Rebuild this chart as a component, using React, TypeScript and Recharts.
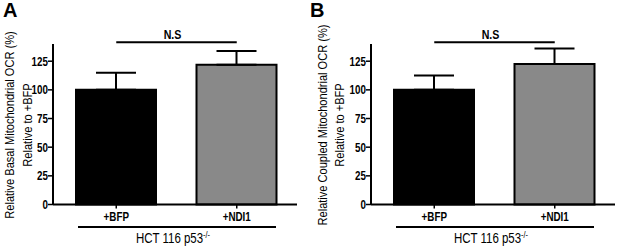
import React from 'react';
import { BarChart, Bar, XAxis, YAxis, Cell, ErrorBar, ReferenceLine } from 'recharts';

const categories = ['+BFP', '+NDI1'];
const basalMeans = [100, 122];
const basalErrors = [15, 12];
const coupledMeans = [100, 122.5];
const coupledErrors = [12.5, 13.5];
const yTicks = [0, 25, 50, 75, 100, 125];
const yDomainMax = 140;
const bracketLevel = 141.5;
const groupLabel = 'HCT 116 p53';
const groupSup = '-/-';
const sigLabel = 'N.S';

const FONT = '"Liberation Sans", Arial, Helvetica, sans-serif';
const SQ = 0.82; // horizontal condensing factor for the narrow typeface look
const barColors = ['#000000', '#898989'];

type PanelProps = {
  letter: string;
  means: number[];
  errors: number[];
  line1: string;
  line2: string;
  left: number;
  marginLeft: number;
  marginRight: number;
  l1Off: number;
  l2Off: number;
};

const YTick = (props: any) => {
  const { x, y, payload } = props;
  return (
    <text transform={`translate(${x} ${y}) scale(${SQ} 1)`} textAnchor="end" dy="0.36em"
      fontFamily={FONT} fontSize={12} fontWeight={700} fill="#000">{payload.value}</text>
  );
};

const XTick = (props: any) => {
  const { x, y, payload } = props;
  return (
    <text transform={`translate(${x} ${y}) scale(${SQ} 1)`} textAnchor="middle" dy="0.72em"
      fontFamily={FONT} fontSize={12} fontWeight={700} fill="#000">{payload.value}</text>
  );
};

const YLabel = (props: any) => {
  const vb = props.viewBox || {};
  const axisX = vb.x + vb.width;
  const cy = 125;
  const x1 = axisX - props.l1Off;
  const x2 = axisX - props.l2Off;
  return (
    <g>
      <text transform={`translate(${x1} ${cy}) rotate(-90) scale(${SQ} 1)`} textAnchor="middle" dy="0.36em"
        fontFamily={FONT} fontSize={13.5} fill="#000">{props.line1}</text>
      <text transform={`translate(${x2} ${cy}) rotate(-90) scale(${SQ} 1)`} textAnchor="middle" dy="0.36em"
        fontFamily={FONT} fontSize={13.5} fill="#000">{props.line2}</text>
    </g>
  );
};

const XGroup = (props: any) => {
  const vb = props.viewBox || {};
  const xa = vb.x + 25;
  const xb = vb.x + vb.width - 21;
  const ly = vb.y + 22.5;
  const cx = (xa + xb) / 2 - 4;
  return (
    <g>
      <line x1={xa} x2={xb} y1={ly} y2={ly} stroke="#000" strokeWidth={2} />
      <text transform={`translate(${cx} ${ly + 16}) scale(${SQ} 1)`} textAnchor="middle" fontFamily={FONT} fontSize={14} fill="#000">
        <tspan>{groupLabel}</tspan>
        <tspan dy={-5.5} fontSize={9}>{groupSup}</tspan>
      </text>
    </g>
  );
};

const NSLabel = (props: any) => {
  const vb = props.viewBox || {};
  const cx = vb.x + (vb.width || 0) / 2 - 4;
  const y = vb.y - 3;
  return (
    <text transform={`translate(${cx} ${y}) scale(${SQ} 1)`} textAnchor="middle"
      fontFamily={FONT} fontSize={13} fontWeight={700} fill="#000">{sigLabel}</text>
  );
};

function Panel(p: PanelProps) {
  const data = categories.map((c, i) => ({ name: c, value: p.means[i], err: [0, p.errors[i]] }));
  return (
    <div style={{ position: 'absolute', left: p.left, top: 0, width: 310, height: 247 }}>
      <div style={{ position: 'absolute', left: 3, top: 0, fontFamily: FONT, fontWeight: 700, fontSize: 20, lineHeight: '20px' }}>
        {p.letter}
      </div>
      <BarChart width={310} height={247} data={data}
        margin={{ top: 44, right: p.marginRight, bottom: 22.5, left: p.marginLeft }}>
        <XAxis dataKey="name" type="category" height={20} padding={{ left: 3, right: 0 }}
          axisLine={{ stroke: '#000', strokeWidth: 2 }}
          tickLine={{ stroke: '#000', strokeWidth: 1.5 }} tickSize={4} tickMargin={4}
          tick={<XTick />}
          label={(lp: any) => <XGroup viewBox={lp.viewBox} />} />
        <YAxis type="number" domain={[0, yDomainMax]} ticks={yTicks} width={40} interval={0}
          axisLine={{ stroke: '#000', strokeWidth: 2 }}
          tickLine={{ stroke: '#000', strokeWidth: 1.5 }} tickSize={5} tickMargin={0}
          tick={<YTick />}
          label={(lp: any) => <YLabel viewBox={lp.viewBox} line1={p.line1} line2={p.line2} l1Off={p.l1Off} l2Off={p.l2Off} />} />
        <Bar dataKey="value" barSize={80} isAnimationActive={false} stroke="#000" strokeWidth={2}>
          {data.map((d, i) => (
            <Cell key={d.name} fill={barColors[i]} />
          ))}
          <ErrorBar dataKey="err" width={20} stroke="#000" strokeWidth={2} direction="y" />
        </Bar>
        <ReferenceLine ifOverflow="visible" stroke="#000" strokeWidth={2}
          segment={[{ x: categories[0], y: bracketLevel }, { x: categories[1], y: bracketLevel }]}
          label={(lp: any) => <NSLabel viewBox={lp.viewBox} />} />
      </BarChart>
    </div>
  );
}

export default function App() {
  return (
    <div style={{ position: 'absolute', left: 0, top: 0, width: 617, height: 247, background: '#fff', overflow: 'hidden' }}>
      <Panel letter="A" means={basalMeans} errors={basalErrors}
        line1="Relative Basal Mitochondrial OCR (%)" line2="Relative to +BFP"
        left={0} marginLeft={13} marginRight={13} l1Off={43.5} l2Off={26} />
      <Panel letter="B" means={coupledMeans} errors={coupledErrors}
        line1="Relative Coupled Mitochondrial OCR (%)" line2="Relative to +BFP"
        left={307} marginLeft={24} marginRight={2} l1Off={49} l2Off={32} />
    </div>
  );
}
